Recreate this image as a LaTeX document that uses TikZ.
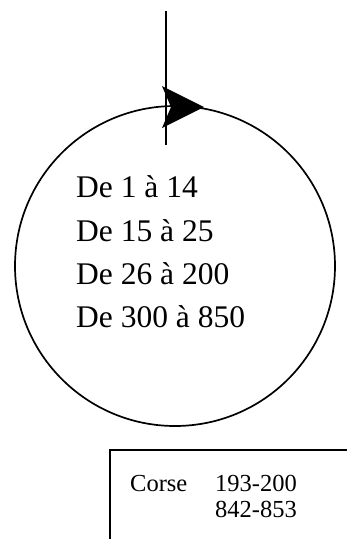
\documentclass[tikz,border=0pt]{standalone}
\usepackage{fontspec}
\setmainfont{Liberation Serif}
\begin{document}
\begin{tikzpicture}[x=1pt,y=-1pt,
  bigtxt/.style={anchor=base west,inner sep=0pt,font=\fontsize{31.5}{36}\selectfont},
  smalltxt/.style={anchor=base west,inner sep=0pt,font=\fontsize{24.5}{29}\selectfont},
  thinline/.style={line width=1.7pt},
  boxline/.style={line width=2.6pt}]
\useasboundingbox (0,0) rectangle (347,539);
% circle
\node[draw,circle,thinline,minimum size=320pt,inner sep=0pt] (ring) at (175,266) {};
% vertical line
\coordinate (vtop) at (166,11);
\coordinate (vbot) at (166,145);
\draw[line width=1.7pt] (vtop) -- (vbot);
% arrowhead
\coordinate (tip) at (204,107);
\coordinate (bu) at (162,86);
\coordinate (notch) at (171,107);
\coordinate (bl) at (162,128);
\fill (tip) -- (bu) -- (notch) -- (bl) -- cycle;
% texts
\node[bigtxt] (t1) at (76,197) {De 1 à 14};
\node[bigtxt] (t2) at (76,241) {De 15 à 25};
\node[bigtxt] (t3) at (76,284) {De 26 à 200};
\node[bigtxt] (t4) at (76,327) {De 300 à 850};
% box
\coordinate (bx1) at (110,539);
\coordinate (bx2) at (110,450);
\coordinate (bx3) at (347,450);
\draw[boxline] (bx1) -- (bx2) -- (bx3);
\node[smalltxt] (c1) at (130,491) {Corse};
\node[smalltxt] (c2) at (215,491) {193-200};
\node[smalltxt] (c3) at (215,517) {842-853};
\end{tikzpicture}
\end{document}
